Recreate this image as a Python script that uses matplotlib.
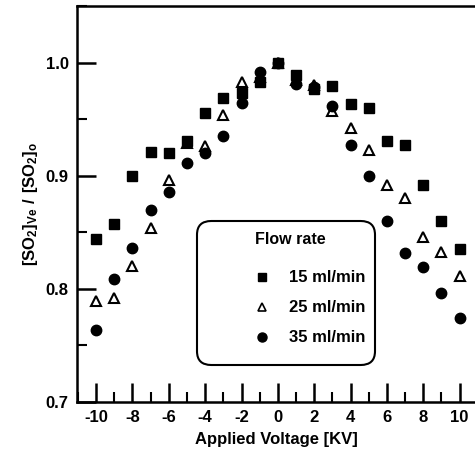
import numpy as np
from matplotlib import pyplot as plt
from matplotlib.patches import FancyBboxPatch
from matplotlib.ticker import MultipleLocator

plt.rcParams['font.family'] = ['Liberation Sans', 'DejaVu Sans']
plt.rcParams['font.weight'] = 'bold'
plt.rcParams['axes.unicode_minus'] = False
plt.rcParams['mathtext.fontset'] = 'custom'
plt.rcParams['mathtext.rm'] = 'Liberation Sans:bold'
plt.rcParams['mathtext.bf'] = 'Liberation Sans:bold'

voltage = [-10, -9, -8, -7, -6, -5, -4, -3, -2, -1, 0, 1, 2, 3, 4, 5, 6, 7, 8, 9, 10]
flow_15 = [0.844, 0.857, 0.900, 0.921, 0.920, 0.931, 0.955, 0.969, 0.973, 0.983, 1.000,
           0.989, 0.977, 0.979, 0.963, 0.960, 0.931, 0.927, 0.892, 0.860, 0.835]
flow_25 = [0.789, 0.792, 0.820, 0.854, 0.896, 0.929, 0.926, 0.954, 0.983, 0.987, 1.000,
           0.985, 0.980, 0.957, 0.942, 0.923, 0.892, 0.880, 0.846, 0.833, 0.811]
flow_35 = [0.764, 0.809, 0.836, 0.870, 0.886, 0.911, 0.920, 0.935, 0.964, 0.992, 1.000,
           0.981, 0.978, 0.962, 0.927, 0.900, 0.860, 0.832, 0.819, 0.796, 0.774]
legend_labels = ['15 ml/min', '25 ml/min', '35 ml/min']

W, H = 475, 458
fig = plt.figure(figsize=(W / 100, H / 100), dpi=100)
ax = fig.add_axes([77 / W, (H - 402) / H, (476 - 77) / W, (402 - 6) / H])

ax.plot(voltage, flow_25, ls='none', marker='^', ms=7, mfc='white', mec='black', mew=1.5, zorder=3)
ax.plot(voltage, flow_35, ls='none', marker='o', ms=7.5, color='black', zorder=4)
ax.plot(voltage, flow_15, ls='none', marker='s', ms=7, color='black', zorder=5)

ax.set_xlim(-11.05, 10.9)
ax.set_ylim(0.7, 1.05)
ax.xaxis.set_major_locator(MultipleLocator(2))
ax.xaxis.set_minor_locator(MultipleLocator(1))
ax.yaxis.set_major_locator(MultipleLocator(0.1))
ax.yaxis.set_minor_locator(MultipleLocator(0.05))
ax.set_yticks([0.7, 0.8, 0.9, 1.0])
ax.set_yticklabels(['0.7', '0.8', '0.9', '1.0'])
ax.tick_params(which='major', direction='in', length=14, width=1.8, labelsize=12, pad=6)
ax.tick_params(which='minor', direction='in', length=7, width=1.5)
ax.tick_params(top=False, right=False, which='both')
for s in ['left', 'bottom', 'top']:
    ax.spines[s].set_linewidth(1.8)
ax.spines['right'].set_visible(False)

ax.set_xlabel('Applied Voltage [KV]', fontsize=12, fontweight='bold', labelpad=5)
ax.set_ylabel(r'$\mathbf{[SO_2]_{Ve}\ /\ [SO_2]_o}$', fontsize=12, labelpad=4)

# legend box drawn by hand to get the rounded frame and layout
box = FancyBboxPatch((197 / W, 1 - 365 / H), (375 - 197) / W, (365 - 221) / H,
                     boxstyle='round,pad=0,rounding_size=0.03', transform=fig.transFigure,
                     fc='white', ec='black', lw=1.5)
fig.patches.append(box)
fig.text(255 / W, 1 - 240 / H, 'Flow rate', fontsize=11.5, fontweight='bold', va='center')
markers = [dict(marker='s', ms=6, color='black'),
           dict(marker='^', ms=6, mfc='white', mec='black', mew=1.2),
           dict(marker='o', ms=6.5, color='black')]
for i, (lab, mk) in enumerate(zip(legend_labels, markers)):
    yy = 1 - (277 + 30 * i) / H
    fig.lines.append(plt.Line2D([262 / W], [yy], transform=fig.transFigure, ls='none', **mk))
    fig.text(289 / W, yy, lab, fontsize=12, fontweight='bold', va='center')

fig.savefig('out.png', dpi=100)
